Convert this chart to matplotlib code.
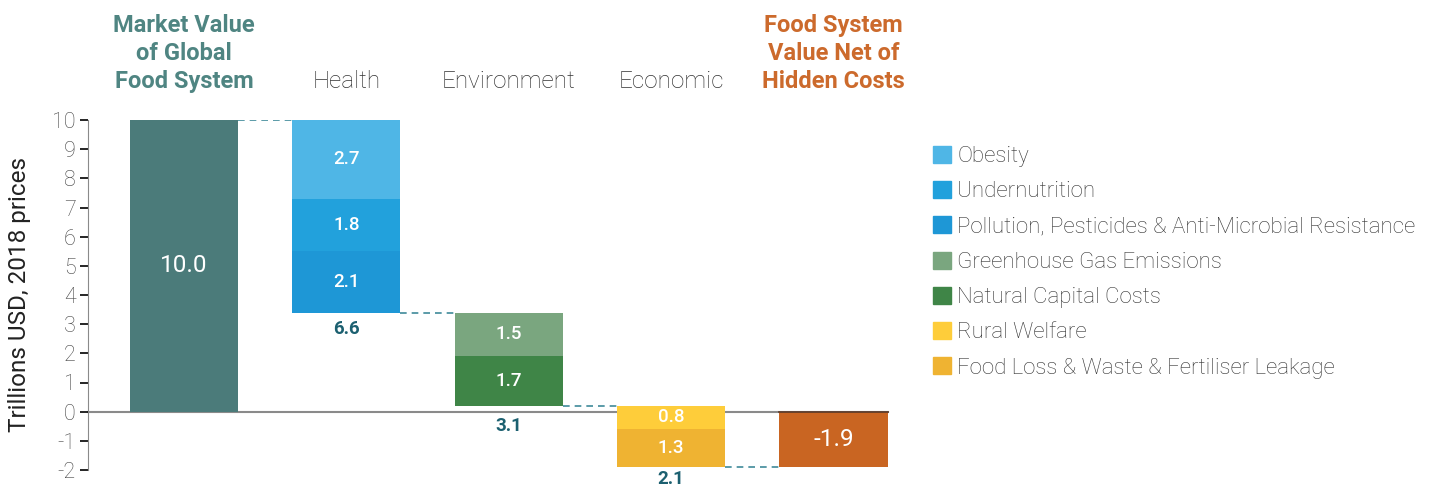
import matplotlib
matplotlib.use("Agg")
import matplotlib.pyplot as plt
from matplotlib.patches import Patch

plt.rcParams['font.family'] = ['Roboto', 'DejaVu Sans']
plt.rcParams['axes.unicode_minus'] = False

# data
categories = ['Market Value\nof Global\nFood System', 'Health', 'Environment',
              'Economic', 'Food System\nValue Net of\nHidden Costs']
market_value = 10.0
net_value = -1.9

# cost segments per group, listed top to bottom
health_costs = [2.7, 1.8, 2.1]
environment_costs = [1.5, 1.7]
economic_costs = [0.8, 1.3]
group_totals = ['6.6', '3.1', '2.1']

legend_labels = ['Obesity', 'Undernutrition',
                 'Pollution, Pesticides & Anti-Microbial Resistance',
                 'Greenhouse Gas Emissions', 'Natural Capital Costs',
                 'Rural Welfare', 'Food Loss & Waste & Fertiliser Leakage']

# colours
teal = '#4b7b7a'
orange = '#c96522'
health_colors = ['#4fb6e6', '#22a1dc', '#1e97d6']
environment_colors = ['#7aa67f', '#3f8547']
economic_colors = ['#fecd3a', '#efb332']
total_color = '#1c6070'
dash_color = '#3f8a9a'

W, H = 1432, 491
fig = plt.figure(figsize=(W / 100, H / 100), dpi=100)
ax = fig.add_axes([88 / W, 21 / H, 812 / W, 350 / H])

bw = 0.666
ax.bar(0, market_value, width=bw, color=teal, zorder=2)
ax.text(0, market_value / 2, '%.1f' % market_value, ha='center', va='center',
        color='white', fontsize=17.5, zorder=3)

groups = [(health_costs, health_colors),
          (environment_costs, environment_colors),
          (economic_costs, economic_colors)]
label_offsets = [16, 20, 12]

level = market_value
for i, (costs, colors) in enumerate(groups, start=1):
    # connector from previous bar
    ax.plot([i - 1 + bw / 2, i - bw / 2], [level, level], color=dash_color,
            lw=1.2, ls=(0, (4, 3)), zorder=1)
    for c, col in zip(costs, colors):
        ax.bar(i, -c, bottom=level, width=bw, color=col, zorder=2)
        ax.text(i, level - c / 2, '%.1f' % c, ha='center', va='center',
                color='white', fontsize=13.5, fontweight='medium', zorder=3)
        level -= c
    ax.annotate(group_totals[i - 1], (i, level), xytext=(0, -label_offsets[i - 1]),
                textcoords='offset pixels', ha='center', va='center',
                color=total_color, fontsize=13.5, fontweight='bold')

ax.plot([3 + bw / 2, 4 - bw / 2], [level, level], color=dash_color,
        lw=1.2, ls=(0, (4, 3)), zorder=1)
ax.bar(4, net_value, width=bw, color=orange, zorder=2)
ax.text(4, net_value / 2, '%.1f' % net_value, ha='center', va='center',
        color='white', fontsize=17.5, zorder=3)

ax.set_xlim(-0.592, 4.41)
ax.set_ylim(-2, 10)
ax.plot([-0.592, 4 + bw / 2], [0, 0], color='#8a8a8a', lw=1.5, zorder=1.5,
        clip_on=False)
ax.plot([4 - bw / 2, 4 + bw / 2], [0, 0], color='#5a3a2a', lw=1.2, zorder=2.5)

# header labels above the bars
for i, cat in enumerate(categories):
    if i == 0:
        kw = dict(color='#4f8582', fontweight='bold', fontsize=17)
    elif i == 4:
        kw = dict(color='#cc6a2c', fontweight='bold', fontsize=17)
    else:
        kw = dict(color='#333333', fontweight='light', fontsize=17.5)
    ax.text(i, 10.92, cat, ha='center', va='bottom',
            linespacing=1.29, clip_on=False, **kw)

for s in ['top', 'right', 'bottom']:
    ax.spines[s].set_visible(False)
ax.spines['left'].set_color('#8a8a8a')
ax.set_xticks([])
ax.set_yticks(range(-2, 11))
ax.tick_params(axis='y', length=6, width=1.2, pad=3, labelsize=15.5,
               labelcolor='#444444')
for t in ax.yaxis.get_major_ticks():
    v = t.get_loc()
    t.tick1line.set_color('#555555' if v in (10, 0, -2) else '#3f8a9a')
for lab in ax.get_yticklabels():
    lab.set_fontweight('light')
ax.set_ylabel('Trillions USD, 2018 prices', fontsize=17.5, color='#222222',
              labelpad=15)

handles = [Patch(color=c) for c in health_colors + environment_colors + economic_colors]
fig.legend(handles, legend_labels, loc='upper left',
           bbox_to_anchor=(933 / W, 1 - 146 / H), frameon=False,
           handlelength=0.8, handleheight=0.8,
           handletextpad=0.3, labelspacing=0.63, borderaxespad=0,
           borderpad=0, prop={'weight': 'light', 'size': 16},
           labelcolor='#333333')

fig.savefig('out.png', dpi=100)
